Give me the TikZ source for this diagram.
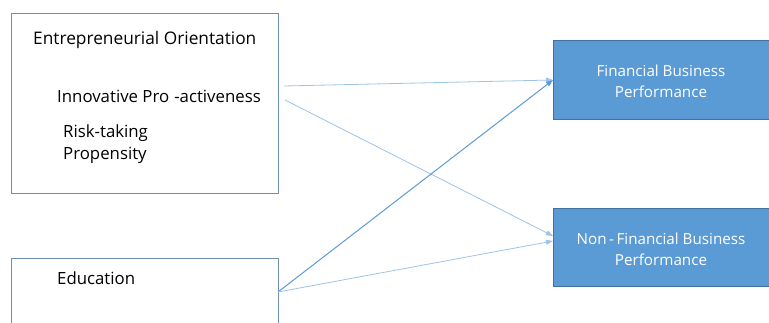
\documentclass[tikz,border=0pt]{standalone}
\usepackage{fontspec}
\setmainfont{Open Sans}
\usetikzlibrary{arrows.meta}
\definecolor{boxfill}{HTML}{5B9BD5}
\definecolor{boxline}{HTML}{41719C}
\definecolor{frameline}{HTML}{6F8FB5}
\definecolor{lightarrow}{HTML}{9DC3E6}
\definecolor{darkarrow}{HTML}{5B9BD5}
\tikzset{
  framebox/.style={draw=frameline, line width=0.9pt, fill=white},
  bluebox/.style={draw=boxline, line width=0.9pt, fill=boxfill},
  lbl/.style={inner sep=0pt, anchor=west, font=\fontsize{16.8}{19}\selectfont},
  wlbl/.style={inner sep=0pt, text=white, align=center, font=\fontsize{15.2}{21}\selectfont},
  thin arrow/.style={draw=lightarrow, line width=0.8pt, -{Triangle[length=7pt,width=5pt]}},
  dark arrow/.style={draw=darkarrow, line width=1pt, -{Triangle[length=7pt,width=5pt]}}
}
\begin{document}
\begin{tikzpicture}[x=1pt,y=-1pt]
\useasboundingbox (0,0) rectangle (769,323);
\clip (0,0) rectangle (769,323);
% boxes
\path[framebox] (11,13) rectangle (278,193);
\path[framebox] (11,258) rectangle (278,340);
\path[bluebox] (553,40) rectangle (780,119);
\path[bluebox] (553,208) rectangle (780,286);
\node (eo) at (144.5,103) {};
\node (edu) at (144.5,299) {};
\node (fin) at (666,79.5) {};
\node (nonfin) at (666,247) {};
% texts
\node[lbl] (t1) at (33,40) {\fontsize{17.3}{19}\selectfont Entrepreneurial Orientation};
\node[lbl] (t2) at (57,96) {Innovative Pro\hspace{0.3em}-activeness};
\node[lbl] (t3) at (63,133) {Risk-taking};
\node[lbl] (t4) at (63,155) {Propensity};
\node[lbl] (t5) at (57,278) {Education};
\node[wlbl] (t6) at (661,81) {Financial Business\\Performance};
\node[wlbl] (t7) at (661,249) {Non\,-\,Financial Business\\Performance};
% connectors
\coordinate (a1) at (284,86);
\coordinate (a2) at (285,100);
\coordinate (e1) at (278,292);
\coordinate (f1) at (553,80);
\coordinate (n1) at (553,236);
\coordinate (n2) at (553,241);
\draw[thin arrow] (a1) -- (f1);
\draw[thin arrow] (a2) -- (n1);
\draw[dark arrow] (e1) -- (f1);
\draw[thin arrow] (e1) -- (n2);
\end{tikzpicture}
\end{document}
